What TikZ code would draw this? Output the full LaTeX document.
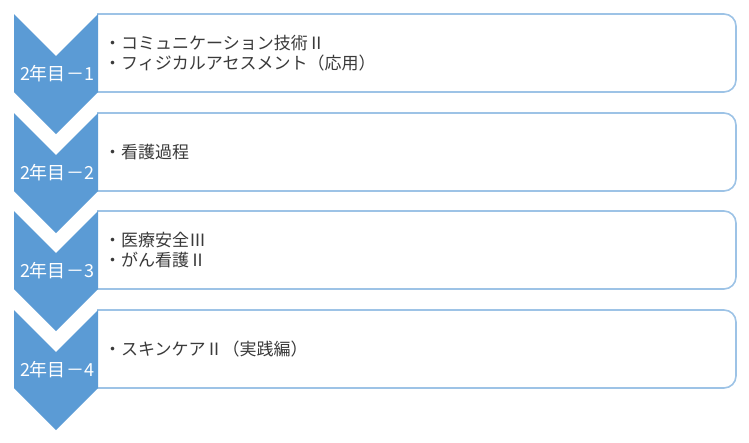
\documentclass[tikz,border=0pt]{standalone}
\usepackage{fontspec}
\setmainfont{Noto Sans CJK JP}
\usepackage{xcolor}
\definecolor{chevblue}{HTML}{5B9BD5}
\definecolor{boxline}{HTML}{9DC3E6}
\definecolor{itemgray}{HTML}{3A3A3A}

\begin{document}
\begin{tikzpicture}[x=1pt, y=-1pt, every node/.style={inner sep=0pt},
        stagebox/.style={draw=boxline, line width=1.6pt, fill=white, rounded corners=12pt},
        stagelabel/.style={text=white, font=\fontsize{18}{20}\selectfont},
        stageitems/.style={text=itemgray, align=left, anchor=west, font=\fontsize{17}{20.5}\selectfont}]
        \useasboundingbox (0,0) rectangle (749,442);
        \foreach \n/\t/\items in {1/14/{・コミュニケーション技術Ⅱ\\・フィジカルアセスメント（応用）},
                2/113/{・看護過程},
                3/211/{・医療安全Ⅲ\\・がん看護Ⅱ},
                4/310/{・スキンケアⅡ（実践編）}}
        {
        \filldraw[stagebox] (97,\t) -- (736,\t) -- (736,\t+78) -- (97,\t+78);
        \fill[chevblue] (14,\t) -- (56,\t+42) -- (98,\t) -- (98,\t+78)
                -- (56,\t+120) -- (14,\t+78) -- cycle;
        \node[stagelabel] (stage\n) at (57,\t+60) {2年目－\n};
        \node[stageitems] (items\n) at (104,\t+39) {\items};
        }
\end{tikzpicture}
\end{document}
